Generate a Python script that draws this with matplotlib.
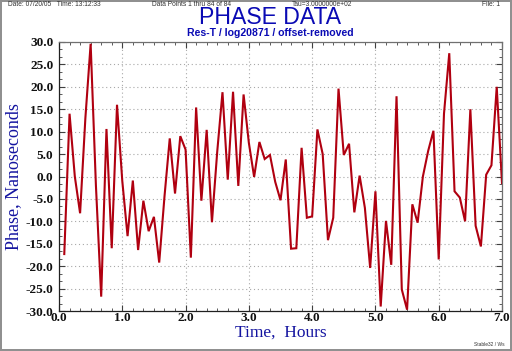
import numpy as np
import matplotlib
matplotlib.use("Agg")
import matplotlib.pyplot as plt
from matplotlib.ticker import MultipleLocator, FormatStrFormatter

tau_seconds = 300.0
phase_ns = [
    -17.3, 14.0, 0.0, -8.2, 13.0, 29.6, -2.0, -26.8, 10.6, -16.0,
    16.0, -1.0, -13.3, -0.9, -16.4, -5.4, -12.2, -9.0, -19.2, -4.5,
    8.5, -3.8, 9.0, 6.0, -18.1, 15.4, -5.4, 10.4, -10.2, 5.5,
    18.8, -0.7, 18.9, -2.1, 18.3, 7.5, -0.1, 7.7, 3.9, 4.8,
    -1.2, -5.3, 3.8, -16.1, -16.0, 6.4, -9.2, -8.9, 10.5, 5.0,
    -14.2, -9.2, 19.6, 4.8, 7.3, -8.0, 0.2, -7.0, -20.4, -3.3,
    -29.0, -9.9, -19.7, 17.9, -25.2, -29.7, -6.2, -10.3, 0.0, 5.7,
    10.2, -18.5, 14.0, 27.5, -3.3, -4.7, -10.0, 15.0, -11.0, -15.6,
    0.4, 2.5, 20.0, -1.5,
]
time_hours = np.arange(1, len(phase_ns) + 1) * tau_seconds / 3600.0

x_ticks = [0, 1, 2, 3, 4, 5, 6, 7]
y_ticks = [-30, -25, -20, -15, -10, -5, 0, 5, 10, 15, 20, 25, 30]

title = "PHASE DATA"
subtitle = "Res-T / log20871 / offset-removed"
xlabel = "Time,  Hours"
ylabel = "Phase, Nanoseconds"

fig = plt.figure(figsize=(5.12, 3.51), dpi=100)
fig.patch.set_facecolor("white")
fig.patch.set_edgecolor("#909090")
fig.patch.set_linewidth(1.5)

ax = fig.add_axes([59/512, 1 - 311/351, (502-59)/512, (311-42)/351])
ax.plot(time_hours, phase_ns, color="#b00010", lw=1.5, solid_joinstyle="miter")
ax.set_xlim(0, 7)
ax.set_ylim(-30, 30)
ax.set_xticks(x_ticks)
ax.set_yticks(y_ticks)
ax.xaxis.set_major_formatter(FormatStrFormatter("%.1f"))
ax.yaxis.set_major_formatter(FormatStrFormatter("%.1f"))
ax.xaxis.set_minor_locator(MultipleLocator(1/6))
ax.yaxis.set_minor_locator(MultipleLocator(5/3))
ax.tick_params(which="both", direction="in", top=True, right=True, color="#404040")
ax.tick_params(which="major", length=4, width=0.8)
ax.tick_params(which="minor", length=2.5, width=0.6)
ax.tick_params(axis="x", which="major", pad=1.0)
ax.tick_params(axis="y", which="major", pad=4)
for lab in ax.get_xticklabels() + ax.get_yticklabels():
    lab.set_fontfamily("Liberation Serif")
    lab.set_fontweight("bold")
    lab.set_fontsize(9.5)
    lab.set_color("#111111")
ax.grid(True, which="major", color="#a8a8a8", linestyle=(0, (1, 2.5)), lw=0.8)
for s in ax.spines.values():
    s.set_linewidth(0.9)
    s.set_color("#202020")
ax.spines["right"].set_color("#707070")
ax.spines["top"].set_color("#707070")

fig.text(270/512, 1 - 18/351, title, ha="center", va="center",
         fontfamily="Liberation Sans", fontsize=16.6, color="#0a0ab4")
fig.text(270/512, 1 - 33.5/351, subtitle, ha="center", va="center",
         fontfamily="Liberation Sans", fontweight="bold", fontsize=7.6, color="#0a0ab4")
fig.text(281/512, 1 - 333/351, xlabel, ha="center", va="center",
         fontfamily="Liberation Serif", fontsize=12.5, color="#1414a0")
fig.text(14/512, 1 - 177/351, ylabel, ha="center", va="center", rotation=90,
         fontfamily="Liberation Serif", fontsize=13, color="#1414a0")

hdr = dict(fontfamily="Liberation Sans", fontsize=4.8, color="#333333", va="center")
fig.text(8/512, 1 - 4.5/351, "Date: 07/20/05   Time: 13:12:33", ha="left", **hdr)
fig.text(152/512, 1 - 4.5/351, "Data Points 1 thru 84 of 84", ha="left", **hdr)
fig.text(292/512, 1 - 4.5/351, "Tau=3.0000000e+02", ha="left", **hdr)
fig.text(500/512, 1 - 4.5/351, "File: 1", ha="right", **hdr)
fig.text(505/512, 1 - 344/351, "Stable32 / Ws", ha="right",
         fontfamily="Liberation Sans", fontsize=3.5, color="#333333", va="center")

fig.savefig("out.png", dpi=100)
